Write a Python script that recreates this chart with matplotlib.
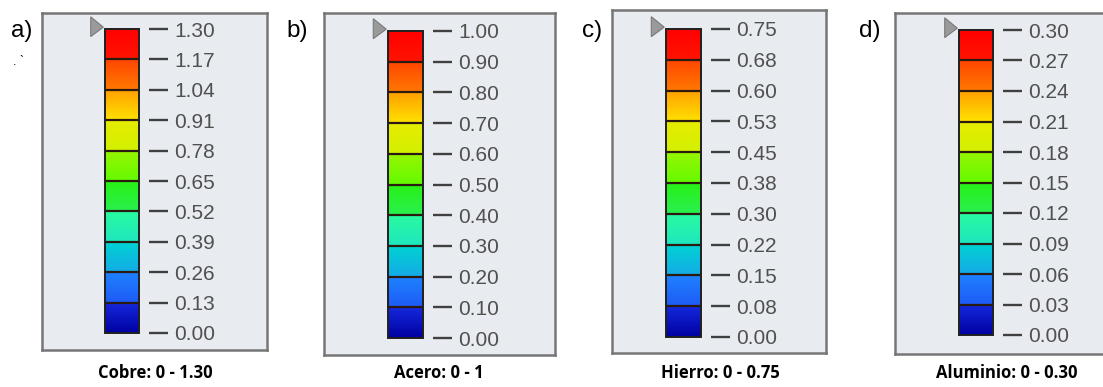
import matplotlib
matplotlib.use("Agg")
import matplotlib.pyplot as plt
import numpy as np
from matplotlib.colors import LinearSegmentedColormap, Normalize
from matplotlib.cm import ScalarMappable
from matplotlib.patches import Polygon

W, H = 1103, 387

# datos de cada panel
letters = ["a)", "b)", "c)", "d)"]
titles = ["Cobre: 0 - 1.30", "Acero: 0 - 1", "Hierro: 0 - 0.75", "Aluminio: 0 - 0.30"]
vmax = [1.30, 1.00, 0.75, 0.30]
labels_cobre = ["0.00", "0.13", "0.26", "0.39", "0.52", "0.65", "0.78", "0.91", "1.04", "1.17", "1.30"]
labels_acero = ["0.00", "0.10", "0.20", "0.30", "0.40", "0.50", "0.60", "0.70", "0.80", "0.90", "1.00"]
labels_hierro = ["0.00", "0.08", "0.15", "0.22", "0.30", "0.38", "0.45", "0.53", "0.60", "0.68", "0.75"]
labels_alum = ["0.00", "0.03", "0.06", "0.09", "0.12", "0.15", "0.18", "0.21", "0.24", "0.27", "0.30"]
tick_labels = [labels_cobre, labels_acero, labels_hierro, labels_alum]

# colores de las bandas (abajo, arriba), de abajo hacia arriba
band_colors = [
    ("#0000a0", "#1428dc"),
    ("#1e5af5", "#1e82ff"),
    ("#14aae6", "#00d2d2"),
    ("#1ee6be", "#28faa0"),
    ("#28f050", "#28f014"),
    ("#64fa00", "#96f500"),
    ("#d2f000", "#e6eb00"),
    ("#ffe100", "#ffa000"),
    ("#ff7800", "#ff4600"),
    ("#ff1400", "#ff0000"),
]

# cajas en pixeles: marco (x0, y0, x1, y1) y barra
frames = [(42, 13, 267, 350), (324, 13, 555, 355), (612, 10, 826, 353), (895, 13, 1119, 354)]
bars = [(105, 29, 139, 333), (388, 31, 423, 338), (666, 29, 701, 337), (959, 30, 993, 335)]
letter_x = [11, 286, 582, 859]
title_x = [155, 439, 720, 1007]

plt.rcParams['font.family'] = ['Liberation Sans', 'DejaVu Sans']


def box(b):
    x0, y0, x1, y1 = b
    return [x0 / W, 1 - y1 / H, (x1 - x0) / W, (y1 - y0) / H]


# colormap con discontinuidades en los limites de banda
n = len(band_colors)
stops = []
for i, (c0, c1) in enumerate(band_colors):
    stops.append((i / n, c0))
    stops.append(((i + 1) / n, c1))
cmap = LinearSegmentedColormap.from_list("bandas", stops, N=1024)

fig = plt.figure(figsize=(W / 100, H / 100), dpi=100)
fig.patch.set_facecolor("white")

for k in range(4):
    fr = fig.add_axes(box(frames[k]))
    fr.set_facecolor("#e8ecf0")
    fr.set_xticks([])
    fr.set_yticks([])
    for s in fr.spines.values():
        s.set_color("#767676")
        s.set_linewidth(1.8)

    cax = fig.add_axes(box(bars[k]))
    norm = Normalize(0, vmax[k])
    pos = np.linspace(0, vmax[k], len(tick_labels[k]))
    cb = fig.colorbar(ScalarMappable(norm=norm, cmap=cmap), cax=cax, ticks=pos)
    cb.set_ticklabels(tick_labels[k])
    cb.outline.set_edgecolor("#202020")
    cb.outline.set_linewidth(1.4)
    for v in pos[1:-1]:
        cax.axhline(v, color="#2a1a10", lw=1.6)
    cax.spines['right'].set_position(('outward', 7))
    cax.tick_params(axis='y', length=13.5, width=1.7, color="#404040",
                    pad=5, labelsize=15, labelcolor="#505050")

    tri = Polygon([[-0.42, 1.04], [-0.42, 0.975], [-0.05, 1.006]], closed=True,
                  transform=cax.transAxes, clip_on=False,
                  facecolor="#9a9a9a", edgecolor="#7a7a7a", lw=0.8)
    cax.add_patch(tri)

    fig.text(letter_x[k] / W, 1 - 31 / H, letters[k], fontsize=17.5,
             ha="left", va="center", color="black")
    fig.text(title_x[k] / W, 1 - 373 / H, titles[k], fontsize=12,
             fontweight="bold", family=["Open Sans", "DejaVu Sans"],
             ha="center", va="center", color="black")

fig.text(13 / W, 1 - 62 / H, ". `", fontsize=9, ha="left", va="center")

fig.savefig("out.png", dpi=100)
